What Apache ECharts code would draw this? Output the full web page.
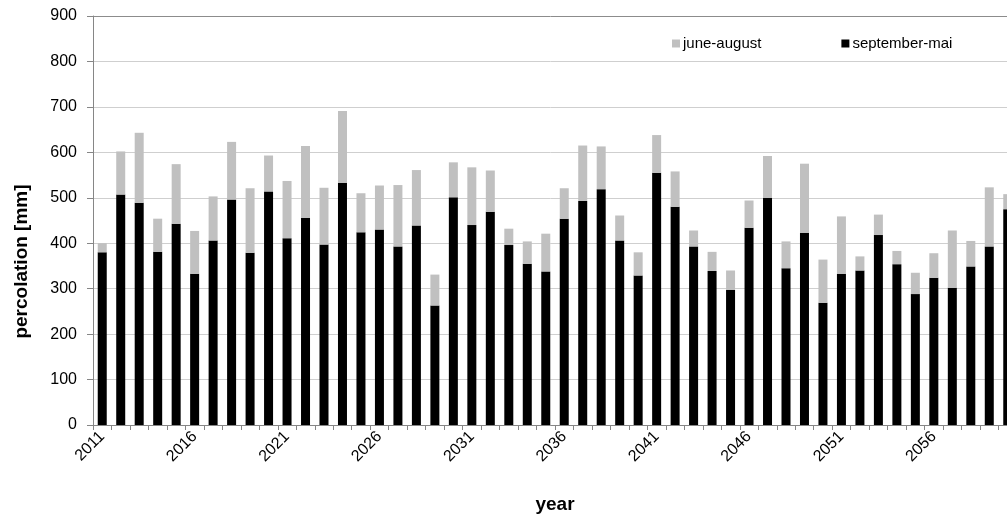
<!DOCTYPE html>
<html>
<head>
<meta charset="utf-8">
<script src="https://cdn.jsdelivr.net/npm/echarts@6/dist/echarts.min.js"></script>
<style>
  html, body { margin: 0; padding: 0; background: #fff; }
  #chart { width: 1007px; height: 515px; }
</style>
</head>
<body>
<div id="chart"></div>
<script>
// Seasonal percolation per year, in mm
const years = [];
for (let y = 2011; y <= 2060; y++) years.push(String(y));

// Percolation from September to May (lower segment of each bar)
const septemberMai = [
  380, 507, 489, 381, 443, 333, 406, 496, 379, 514,
  411, 456, 397, 533, 424, 430, 393, 439, 263, 501,
  440, 469, 396, 355, 338, 454, 493, 519, 406, 329,
  555, 480, 393, 339, 297, 434, 500, 345, 423, 269,
  333, 340, 418, 354, 288, 324, 302, 349, 393, 475
];

// Percolation from June to August (upper segment, stacked on top)
const juneAugust = [
  20, 95, 154, 73, 131, 94, 97, 127, 142, 79,
  126, 158, 125, 158, 86, 97, 135, 122, 68, 77,
  127, 91, 36, 49, 83, 67, 122, 94, 55, 51,
  83, 78, 35, 42, 43, 60, 92, 59, 152, 95,
  126, 31, 45, 29, 47, 54, 126, 56, 130, 33
];

const yTicks = { min: 0, max: 900, interval: 100 };

const font = '"Liberation Sans", Arial, sans-serif';
const chart = echarts.init(document.getElementById('chart'), null, { renderer: 'canvas' });

// Light grid lines, the top one drawn darker as the plot frame
const gridColors = [];
for (let v = yTicks.min; v <= yTicks.max; v += yTicks.interval) {
  gridColors.push(v === yTicks.max ? '#8c8c8c' : '#cfcfcf');
}

chart.setOption({
  animation: false,
  backgroundColor: '#fff',
  textStyle: { fontFamily: font },
  grid: {
    left: 93, right: -10, top: 16, bottom: 90,
    containLabel: false,
    outerBoundsMode: 'none'
  },
  legend: {
    left: 672,
    top: 36,
    padding: 0,
    itemWidth: 8,
    itemHeight: 8,
    itemGap: 80,
    icon: 'rect',
    textStyle: { fontFamily: font, fontSize: 15, color: '#000', padding: [0, 0, 0, -2] },
    data: ['june-august', 'september-mai']
  },
  xAxis: {
    type: 'category',
    data: years,
    name: 'year',
    nameLocation: 'middle',
    nameGap: 70,
    nameTextStyle: { fontFamily: font, fontSize: 19, fontWeight: 'bold', color: '#000' },
    axisLine: { lineStyle: { color: '#868686', width: 1 } },
    axisTick: { show: true, alignWithLabel: false, interval: 0, length: 5, lineStyle: { color: '#868686' } },
    axisLabel: {
      interval: 4,
      rotate: 45,
      fontFamily: font,
      fontSize: 16,
      color: '#000',
      margin: 9
    },
    splitLine: { show: false }
  },
  yAxis: {
    type: 'value',
    min: yTicks.min,
    max: yTicks.max,
    interval: yTicks.interval,
    name: 'percolation [mm]',
    nameLocation: 'middle',
    nameGap: 62,
    nameRotate: 90,
    nameTextStyle: { fontFamily: font, fontSize: 19, fontWeight: 'bold', color: '#000', padding: [0, 82, 0, 0] },
    axisLine: { show: true, lineStyle: { color: '#868686', width: 1 } },
    axisTick: { show: true, length: 6, lineStyle: { color: '#868686' } },
    axisLabel: { fontFamily: font, fontSize: 16, color: '#000', margin: 16 },
    splitLine: { show: true, lineStyle: { color: gridColors, width: 1 } }
  },
  series: [
    {
      name: 'september-mai',
      type: 'bar',
      stack: 'total',
      data: septemberMai,
      barWidth: 9,
      itemStyle: { color: '#000000' }
    },
    {
      name: 'june-august',
      type: 'bar',
      stack: 'total',
      data: juneAugust,
      barWidth: 9,
      itemStyle: { color: '#c0c0c0' }
    }
  ]
});
</script>
</body>
</html>
